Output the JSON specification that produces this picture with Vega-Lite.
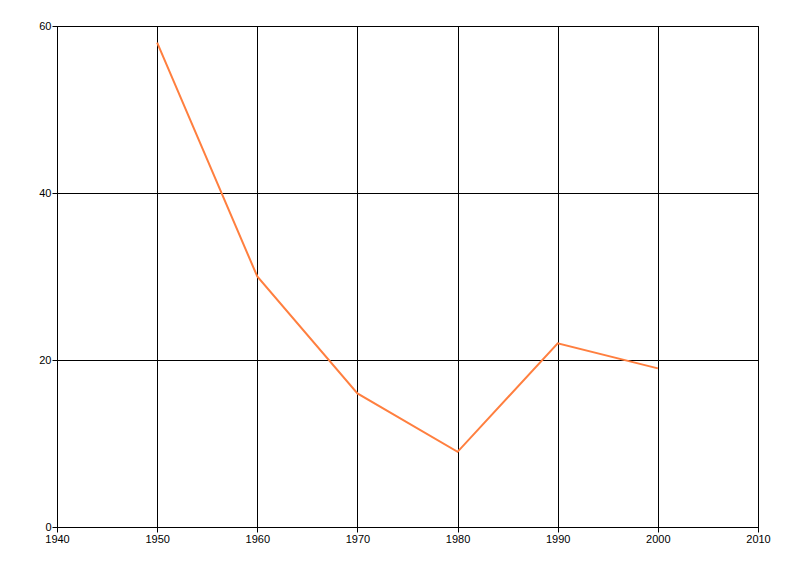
{
  "$schema": "https://vega.github.io/schema/vega-lite/v6.json",
  "width": 701,
  "height": 501,
  "autosize": "none",
  "padding": {"left": 57, "top": 26, "right": 42, "bottom": 49},
  "background": "white",
  "config": {
    "view": {"stroke": "black", "strokeWidth": 1},
    "axis": {
      "gridColor": "black",
      "gridOpacity": 1,
      "gridWidth": 1,
      "domainColor": "black",
      "tickColor": "black",
      "tickSize": 5,
      "labelColor": "black",
      "labelFont": "Liberation Sans",
      "labelFontSize": 11,
      "labelPadding": 1,
      "title": null
    }
  },
  "data": {
    "values": [
      {"year": 1950, "value": 58},
      {"year": 1960, "value": 30},
      {"year": 1970, "value": 16},
      {"year": 1980, "value": 9},
      {"year": 1990, "value": 22},
      {"year": 2000, "value": 19}
    ]
  },
  "mark": {"type": "line", "color": "#FF7F3F", "strokeWidth": 2},
  "encoding": {
    "x": {
      "field": "year",
      "type": "quantitative",
      "scale": {"domain": [1940, 2010], "nice": false, "zero": false},
      "axis": {"values": [1940, 1950, 1960, 1970, 1980, 1990, 2000, 2010], "format": "d", "labelFlush": false, "labelOverlap": false}
    },
    "y": {
      "field": "value",
      "type": "quantitative",
      "scale": {"domain": [0, 60], "nice": false},
      "axis": {"values": [0, 20, 40, 60], "labelFlush": false}
    }
  }
}
